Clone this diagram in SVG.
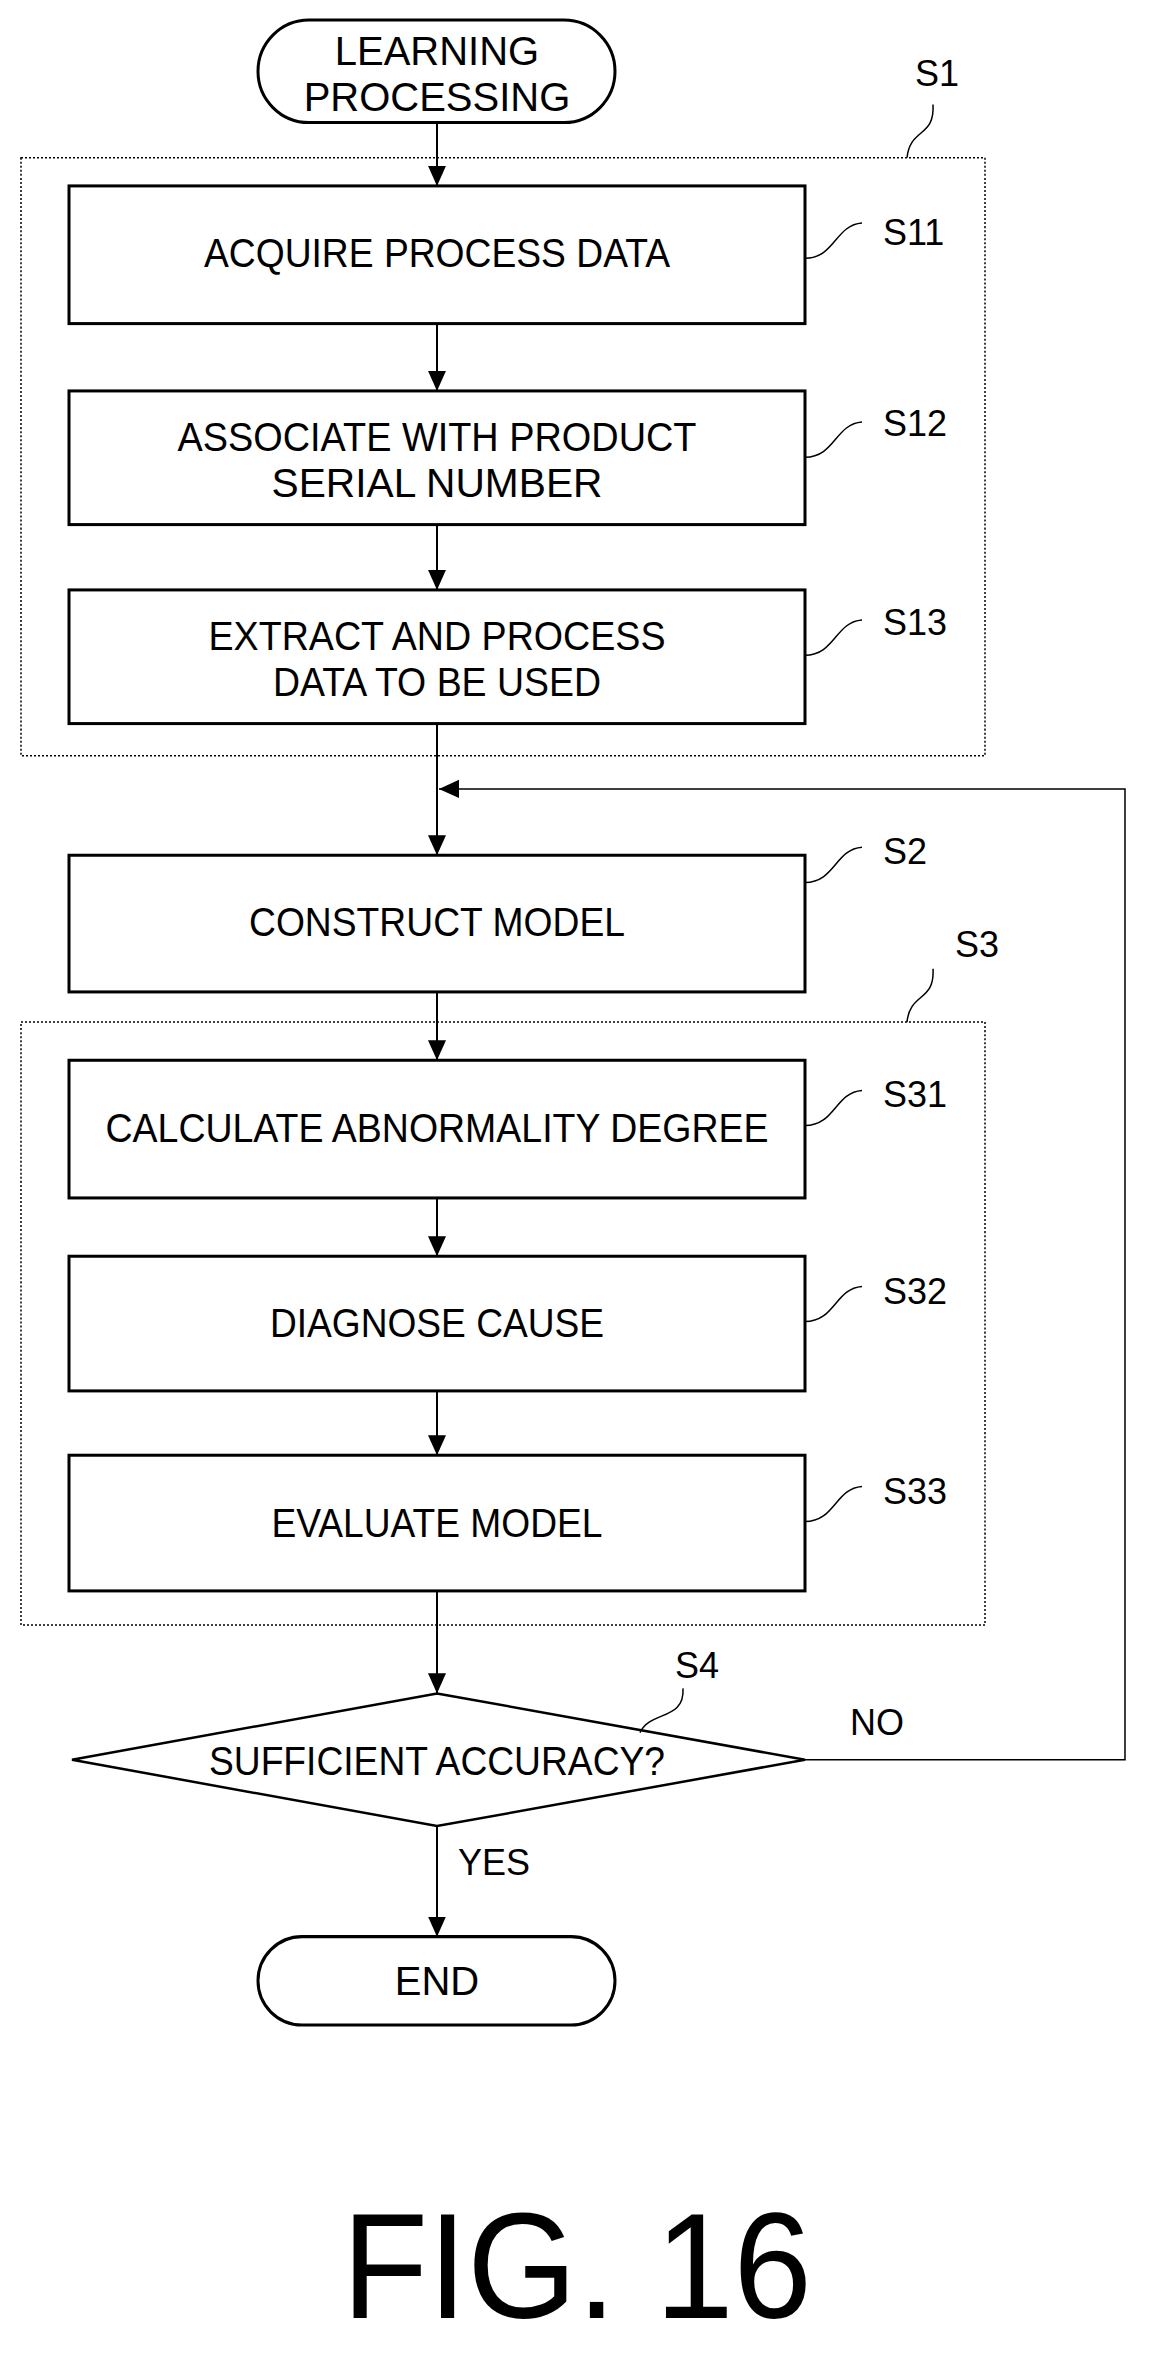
<svg xmlns="http://www.w3.org/2000/svg" width="1150" height="2364" viewBox="0 0 1150 2364">
<style>
.b{fill:#fff;stroke:#000;stroke-width:3}
.g{fill:none;stroke:#000;stroke-width:1.5;stroke-dasharray:2 2}
.t{font-family:"Liberation Sans",Arial,sans-serif;font-size:40px;text-anchor:middle;fill:#000}
.l{font-family:"Liberation Sans",Arial,sans-serif;font-size:36px;fill:#000}
.c{fill:none;stroke:#000;stroke-width:2}
.lead{fill:none;stroke:#000;stroke-width:1.5}
</style>
<defs>
<marker id="a2" markerWidth="22" markerHeight="22" refX="20" refY="11" orient="auto" markerUnits="userSpaceOnUse" viewBox="0 0 22 22"><path d="M0,2 L20,11 L0,20 Z" fill="#000"/></marker></defs>
<g transform="translate(0,2) scale(1,1.005)">
<rect class="g" x="21" y="155" width="964" height="595"/>
<rect class="g" x="21" y="1015" width="964" height="600"/>
<g id="connectors">
<path class="c" d="M437,120 V183" marker-end="url(#a2)"/>
<path class="c" d="M437,320 V387" marker-end="url(#a2)"/>
<path class="c" d="M437,520 V585" marker-end="url(#a2)"/>
<path class="c" d="M437,718 V849" marker-end="url(#a2)"/>
<path class="c" d="M437,985 V1053" marker-end="url(#a2)"/>
<path class="c" d="M437,1190 V1248" marker-end="url(#a2)"/>
<path class="c" d="M437,1382 V1446" marker-end="url(#a2)"/>
<path class="c" d="M437,1581 V1683" marker-end="url(#a2)"/>
<path class="c" d="M437,1815 V1925" marker-end="url(#a2)"/>
<path class="lead" d="M805,1749 H1125 V783 H439" marker-end="url(#a2)"/>
</g>
<g id="start"><rect class="b" x="258" y="18" width="357" height="102" rx="51"/><text class="t" x="437" y="63">LEARNING</text><text class="t" x="437" y="108">PROCESSING</text></g>
<g id="S1"><path class="lead" d="M907,155 C910,125 935,135 933,102"/><text class="l" x="915" y="84">S1</text></g>
<g id="S11"><rect class="b" x="69" y="183" width="736" height="137"/><text class="t" x="437" y="264" textLength="466" lengthAdjust="spacingAndGlyphs">ACQUIRE PROCESS DATA</text><path class="lead" d="M805,255 C835,255 835,222 862,220"/><text class="l" x="883" y="242">S11</text></g>
<g id="S12"><rect class="b" x="69" y="387" width="736" height="133"/><text class="t" x="437" y="447" textLength="519" lengthAdjust="spacingAndGlyphs">ASSOCIATE WITH PRODUCT</text><text class="t" x="437" y="493" textLength="331" lengthAdjust="spacingAndGlyphs">SERIAL NUMBER</text><path class="lead" d="M805,453 C835,453 835,420 862,418"/><text class="l" x="883" y="432">S12</text></g>
<g id="S13"><rect class="b" x="69" y="585" width="736" height="133"/><text class="t" x="437" y="645" textLength="457" lengthAdjust="spacingAndGlyphs">EXTRACT AND PROCESS</text><text class="t" x="437" y="691" textLength="328" lengthAdjust="spacingAndGlyphs">DATA TO BE USED</text><path class="lead" d="M805,650 C835,650 835,617 862,615"/><text class="l" x="883" y="630">S13</text></g>
<g id="S2"><rect class="b" x="69" y="849" width="736" height="136"/><text class="t" x="437" y="929" textLength="376" lengthAdjust="spacingAndGlyphs">CONSTRUCT MODEL</text><path class="lead" d="M805,876 C835,876 835,843 862,841"/><text class="l" x="883" y="858">S2</text></g>
<g id="S3"><path class="lead" d="M907,1015 C910,985 935,995 933,962"/><text class="l" x="955" y="950">S3</text></g>
<g id="S31"><rect class="b" x="69" y="1053" width="736" height="137"/><text class="t" x="437" y="1134" textLength="663" lengthAdjust="spacingAndGlyphs">CALCULATE ABNORMALITY DEGREE</text><path class="lead" d="M805,1118 C835,1118 835,1085 862,1083"/><text class="l" x="883" y="1100">S31</text></g>
<g id="S32"><rect class="b" x="69" y="1248" width="736" height="134"/><text class="t" x="437" y="1328" textLength="334" lengthAdjust="spacingAndGlyphs">DIAGNOSE CAUSE</text><path class="lead" d="M805,1313 C835,1313 835,1280 862,1278"/><text class="l" x="883" y="1296">S32</text></g>
<g id="S33"><rect class="b" x="69" y="1446" width="736" height="135"/><text class="t" x="437" y="1527" textLength="331" lengthAdjust="spacingAndGlyphs">EVALUATE MODEL</text><path class="lead" d="M805,1512 C835,1512 835,1479 862,1477"/><text class="l" x="883" y="1495">S33</text></g>
<g id="S4"><path class="b" d="M437,1683 L805,1749 L437,1815 L72,1749 Z" style="stroke-width:2.5"/><text class="t" x="437" y="1764" textLength="456" lengthAdjust="spacingAndGlyphs">SUFFICIENT ACCURACY?</text><path class="lead" d="M640,1722 C650,1700 685,1710 683,1678"/><text class="l" x="675" y="1668">S4</text><text class="l" x="850" y="1724">NO</text><text class="l" x="458" y="1864">YES</text></g>
<g id="end"><rect class="b" x="258" y="1925" width="357" height="88" rx="44"/><text class="t" x="437" y="1983">END</text></g>
</g>
<text x="577" y="2318" style="font-family:'Liberation Sans',Arial,sans-serif;font-size:150px;text-anchor:middle" textLength="470" lengthAdjust="spacingAndGlyphs">FIG. 16</text>
</svg>
